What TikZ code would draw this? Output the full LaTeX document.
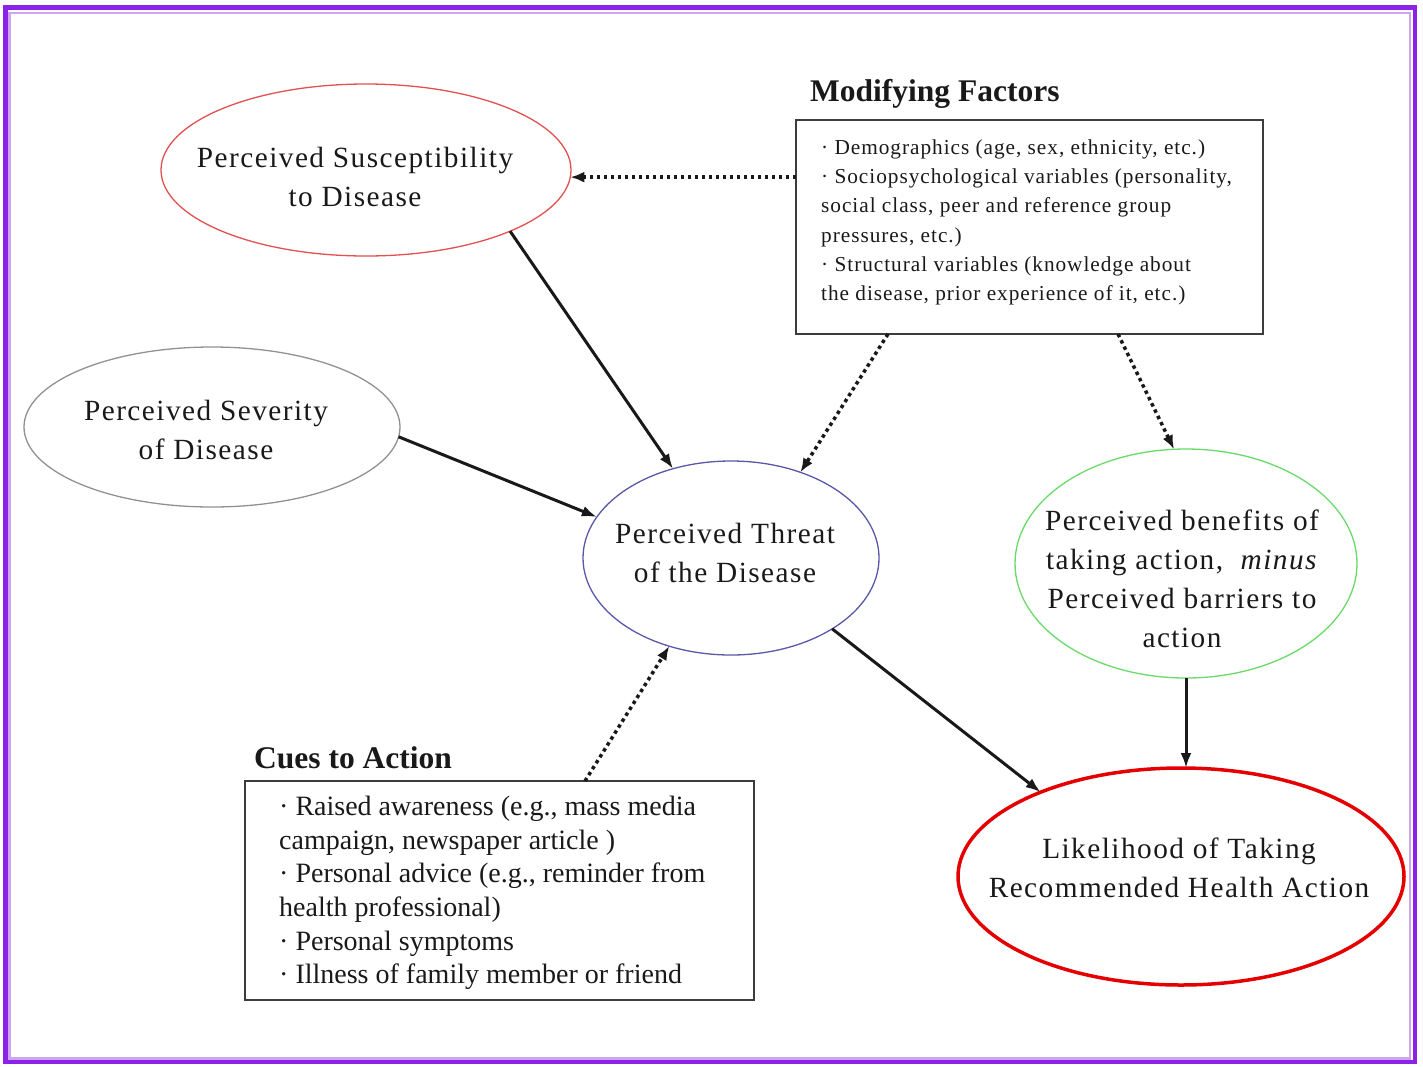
\documentclass[tikz,border=0pt]{standalone}
\usepackage{fontspec}
\setmainfont{Liberation Serif}
\newfontfamily\ellfont[LetterSpace=5]{Liberation Serif}
\newfontfamily\mffont[LetterSpace=4.5]{Liberation Serif}
\usetikzlibrary{shapes.geometric,arrows.meta,calc}
\definecolor{frameviolet}{RGB}{140,34,232}
\definecolor{framelilac}{RGB}{205,165,242}
\definecolor{susred}{RGB}{226,80,80}
\definecolor{sevgrey}{RGB}{145,145,145}
\definecolor{thrblue}{RGB}{88,88,168}
\definecolor{bengreen}{RGB}{105,218,105}
\definecolor{likred}{RGB}{228,0,0}
\definecolor{ink}{RGB}{25,25,25}
\definecolor{boxline}{RGB}{60,60,60}
\begin{document}
\begin{tikzpicture}[x=1pt,y=-1pt,
  ell/.style={ellipse, inner sep=0pt, outer sep=0pt, line width=1.3pt},
  etext/.style={font=\ellfont\fontsize{29.3}{39}\selectfont, align=center, text=ink, inner sep=0pt},
  factbox/.style={draw=boxline, line width=1.3pt, inner sep=0pt, outer sep=0pt},
  mftext/.style={font=\mffont\fontsize{21.3}{29.2}\selectfont, align=left, text=ink, inner sep=0pt, anchor=north west},
  cuetext/.style={font=\fontsize{28}{33.6}\selectfont, align=left, text=ink, inner sep=0pt, anchor=north west},
  boxtitle/.style={font=\bfseries\fontsize{31.5}{36}\selectfont, text=ink, inner sep=0pt, anchor=base west},
  solidarrow/.style={draw=ink, line width=3pt, -{Latex[length=15pt,width=11pt]}},
  dotarrow/.style={draw=ink, line width=3.5pt, dash pattern=on 3.5pt off 3.5pt, -{Latex[length=14pt,width=11pt]}}
]
\useasboundingbox (0,0) rectangle (1423,1066);
% frame
\draw[framelilac, line width=2.5pt] (9.5,13) rectangle (1410,1058.5);
\draw[frameviolet, line width=4.5pt] (5.3,7.5) rectangle (1415,1062);

% ellipses
\node[ell, draw=susred, minimum width=410pt, minimum height=172pt] (sus) at (366,170) {};
\node[etext] (susT) at (355,177) {Perceived Susceptibility\\to Disease};

\node[ell, draw=sevgrey, minimum width=376pt, minimum height=160pt] (sev) at (212,427) {};
\node[etext] (sevT) at (206,430) {Perceived Severity\\of Disease};

\node[ell, draw=thrblue, minimum width=296pt, minimum height=194pt] (thr) at (731,558) {};
\node[etext] (thrT) at (725,553) {Perceived Threat\\of the Disease};

\node[ell, draw=bengreen, minimum width=342pt, minimum height=229pt] (ben) at (1186,563.5) {};
\node[etext] (benT) at (1182,579) {Perceived benefits of\\taking action, \ \textit{minus}\\Perceived barriers to\\action};

\node[ell, draw=likred, line width=3.5pt, minimum width=446pt, minimum height=217pt] (lik) at (1181,876.5) {};
\node[etext] (likT) at (1179,868) {Likelihood of Taking\\Recommended Health Action};

% modifying factors
\node[boxtitle] (mfTitle) at (810,101) {Modifying Factors};
\node[factbox, minimum width=467pt, minimum height=214pt] (mf) at (1029.5,227) {};
\node[mftext] (mfT) at (821,139.5) {· Demographics (age, sex, ethnicity, etc.)\\· Sociopsychological variables (personality,\\social class, peer and reference group\\pressures, etc.)\\· Structural variables (knowledge about\\the disease, prior experience of it, etc.)};

% cues to action
\node[boxtitle] (cueTitle) at (254,768) {Cues to Action};
\node[factbox, minimum width=509pt, minimum height=219pt] (cue) at (499.5,890.5) {};
\node[cuetext] (cueT) at (279,796) {· Raised awareness (e.g., mass media\\campaign, newspaper article )\\· Personal advice (e.g., reminder from\\health professional)\\· Personal symptoms\\· Illness of family member or friend};

% connectors
\draw[dotarrow] (mf.west |- sus.-2.8) -- (sus.-2.8);
\draw[solidarrow] (sus.-23.6) -- (thr.123.8);
\draw[solidarrow] (sev.-3.3) -- (thr.163.2);
\draw[dotarrow] ([xshift=-141.5pt]mf.south) -- (thr.51.9);
\draw[dotarrow] ([xshift=88.5pt]mf.south) -- (ben.96.4);
\draw[solidarrow] (thr.-35.7) -- (lik.149.2);
\draw[solidarrow] (ben.south) -- (ben.south |- lik.north);
\draw[dotarrow] ([xshift=85.5pt]cue.north) -- (thr.235.9);
\end{tikzpicture}
\end{document}
